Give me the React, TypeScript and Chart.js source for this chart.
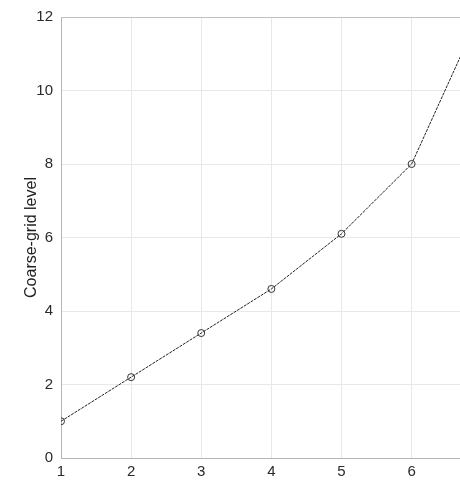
import React, { useEffect, useRef } from "react";
import { Chart, registerables } from "chart.js";

Chart.register(...registerables);

const levels = [1, 2, 3, 4, 5, 6, 7];
const coarseGrid = [1.0, 2.2, 3.4, 4.6, 6.1, 8.0, 12.2];
const xTicks = [1, 2, 3, 4, 5, 6];
const yTicks = [0, 2, 4, 6, 8, 10, 12];
const yTitle = "Coarse-grid level";

const FONT = "'Liberation Sans', Arial, Helvetica, sans-serif";

export default function App() {
  const ref = useRef<HTMLCanvasElement | null>(null);

  useEffect(() => {
    document.body.style.margin = "0";
    const canvas = ref.current;
    if (!canvas) return;
    const chart = new Chart(canvas, {
      type: "line",
      data: {
        datasets: [
          {
            data: levels.map((x, i) => ({ x, y: coarseGrid[i] })),
            borderColor: "#222222",
            borderWidth: 1,
            borderDash: [3, 1],
            pointRadius: (ctx: any) => (ctx.dataIndex < 6 ? 3.5 : 0),
            pointBorderColor: "#333333",
            pointBackgroundColor: "rgba(0,0,0,0)",
            pointBorderWidth: 1,
            tension: 0,
          },
        ],
      },
      options: {
        animation: false,
        responsive: false,
        maintainAspectRatio: false,
        plugins: { legend: { display: false }, tooltip: { enabled: false } },
        layout: { padding: { top: 16, right: 0, left: 0, bottom: 0 } },
        scales: {
          x: {
            type: "linear",
            min: 1,
            max: 6.69,
            afterBuildTicks: (axis: any) => {
              axis.ticks = xTicks.map((v) => ({ value: v }));
            },
            afterFit: (axis: any) => {
              axis.height = 24;
            },
            grid: { color: "#e8e8e8", drawTicks: false },
            border: { color: "#b5b5b5", width: 1 },
            ticks: {
              color: "#2a2a2a",
              font: { family: FONT, size: 15 },
              padding: 5,
            },
          },
          y: {
            type: "linear",
            min: 0,
            max: 12,
            afterBuildTicks: (axis: any) => {
              axis.ticks = yTicks.map((v) => ({ value: v }));
            },
            afterFit: (axis: any) => {
              axis.width = 61;
            },
            grid: {
              color: (ctx: any) => (ctx.tick && ctx.tick.value === 12 ? "#c0c0c0" : "#e8e8e8"),
              drawTicks: false,
            },
            border: { color: "#b5b5b5", width: 1 },
            ticks: {
              color: "#2a2a2a",
              font: { family: FONT, size: 15 },
              padding: 8,
            },
            title: {
              display: true,
              text: yTitle,
              color: "#222222",
              font: { family: FONT, size: 16 },
              padding: { top: 22, bottom: 0 },
            },
          },
        },
      },
    });
    return () => chart.destroy();
  }, []);

  return (
    <div style={{ width: 460, height: 482, overflow: "hidden" }}>
      <canvas ref={ref} width={465} height={482} style={{ display: "block" }} />
    </div>
  );
}
